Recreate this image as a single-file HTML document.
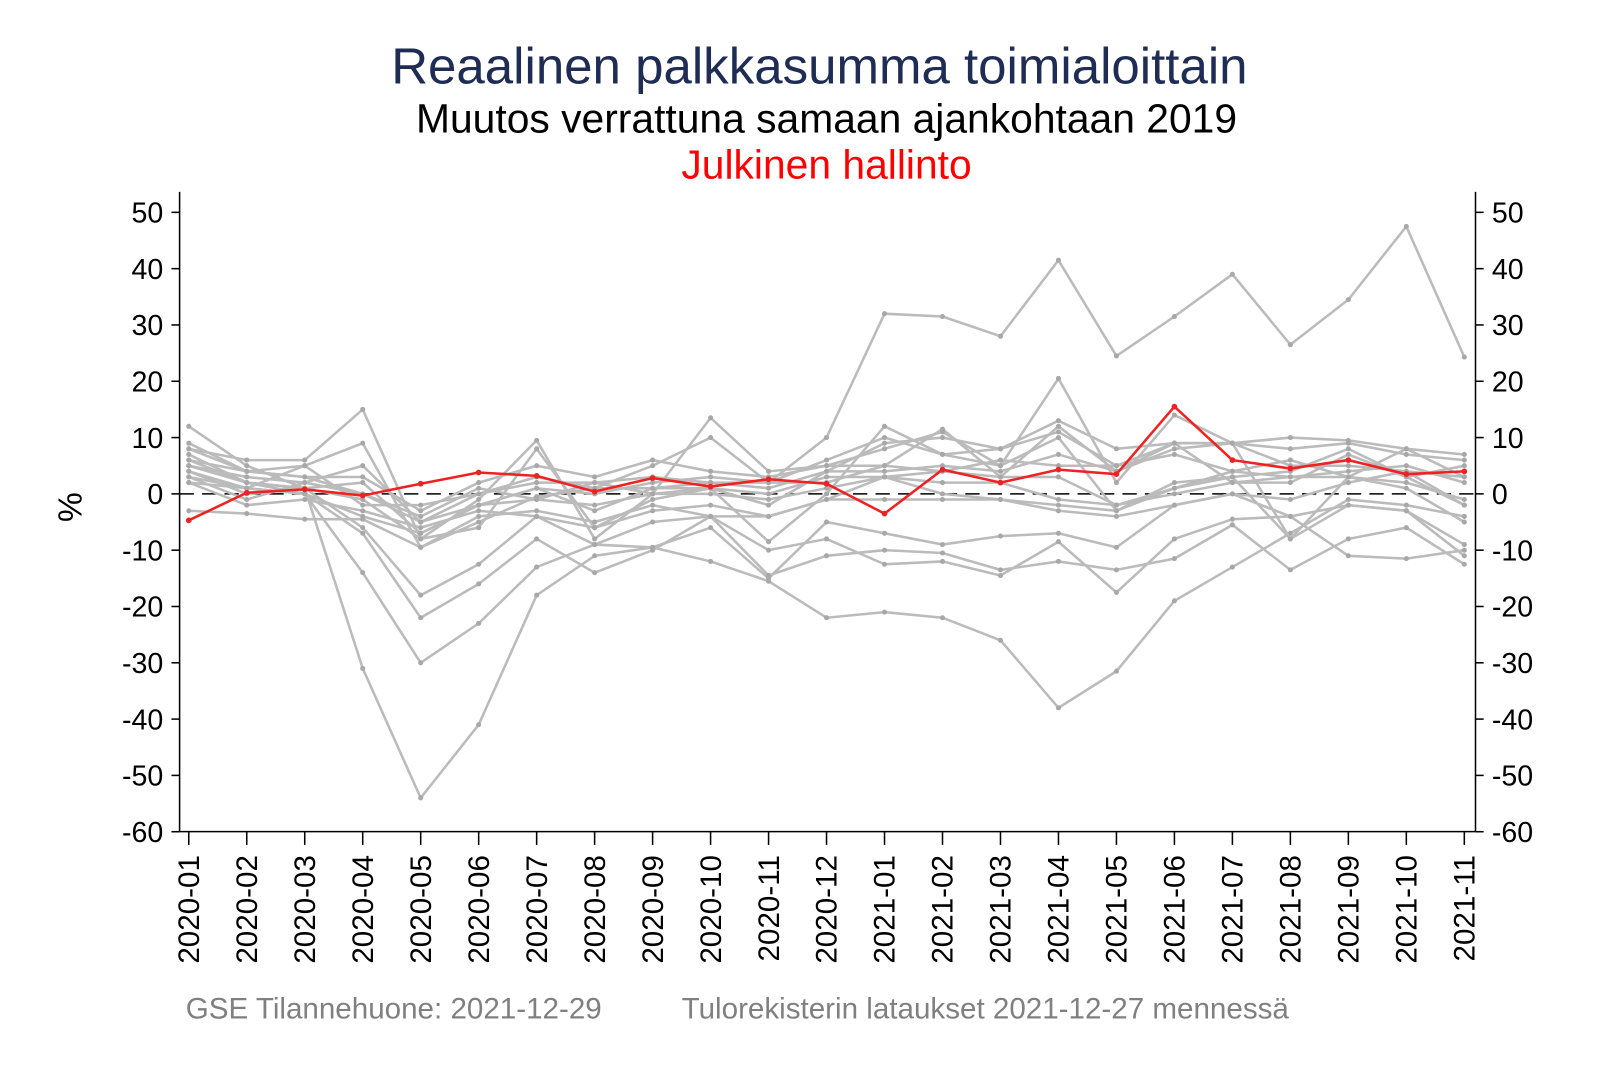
<!DOCTYPE html>
<html><head><meta charset="utf-8"><style>body{margin:0;background:#fff}svg{display:block}text{font-family:"Liberation Sans",Arial,sans-serif}</style></head>
<body>
<svg width="1600" height="1067" xmlns="http://www.w3.org/2000/svg">
<rect width="1600" height="1067" fill="#fff"/>
<g transform="scale(1.0204)">
<text x="803" y="82" font-size="50" fill="#1F2D55" text-anchor="middle">Reaalinen palkkasumma toimialoittain</text>
<text x="810" y="130" font-size="40" fill="#000" text-anchor="middle">Muutos verrattuna samaan ajankohtaan 2019</text>
<text x="810" y="175" font-size="40" fill="#ff0000" text-anchor="middle">Julkinen hallinto</text>
<g id="axes" stroke="#000" stroke-width="1.5" fill="none">
<line x1="176" y1="188" x2="176" y2="815"/>
<line x1="1446" y1="188" x2="1446" y2="815"/>
<line x1="176" y1="815" x2="1446" y2="815"/>
</g>
<line x1="176" y1="484" x2="1446" y2="484" stroke="#000" stroke-width="1.5" stroke-dasharray="14,8"/>
<g id="yt"></g><g id="xt"></g><g id="series"></g>
<text x="0" y="0" font-size="33" transform="translate(80,497) rotate(-90)" text-anchor="middle">%</text>
<text x="182" y="998" font-size="29" fill="#808080">GSE Tilannehuone: 2021-12-29</text>
<text x="668" y="998" font-size="29" fill="#808080">Tulorekisterin lataukset 2021-12-27 mennessä</text>
</g>
<script>
var ns="http://www.w3.org/2000/svg";
function Y(v){return 484-v*5.518;}
function X(i){return 185+i*56.82;}
function el(t,a,p,txt){var e=document.createElementNS(ns,t);for(var k in a)e.setAttribute(k,a[k]);if(txt!=null)e.textContent=txt;document.getElementById(p).appendChild(e);return e;}
for(var v=-60;v<=50;v+=10){var y=Y(v);
el('line',{x1:168,y1:y,x2:176,y2:y,stroke:'#000','stroke-width':1.5},'yt');
el('line',{x1:1446,y1:y,x2:1454,y2:y,stroke:'#000','stroke-width':1.5},'yt');
el('text',{x:160,y:y+10,'font-size':28,'text-anchor':'end'},'yt',v);
el('text',{x:1462,y:y+10,'font-size':28},'yt',v);}
var labs=[];for(var i=1;i<=12;i++)labs.push('2020-'+(i<10?'0':'')+i);for(var i=1;i<=11;i++)labs.push('2021-'+(i<10?'0':'')+i);
labs.forEach(function(l,i){var x=X(i);el('line',{x1:x,y1:815,x2:x,y2:828,stroke:'#000','stroke-width':1.5},'xt');
el('text',{x:0,y:0,'font-size':29,'text-anchor':'end',transform:'translate('+(x+10)+',838) rotate(-90)'},'xt',l);});
var gray=[
[8,4,3,0,-5,-2,1,0,2,3,2,10,32,31.5,28,41.5,24.5,31.5,39,26.5,34.5,47.5,24.3],
[5,2,1,-31,-54,-41,-18,-11,-9.5,-6,-15,-5,-7,-9,-7.5,-7,-9.5,-2,0,-1,2,4,-2],
[2,1,0,-14,-30,-23,-13,-9,-9.5,-12,-15.5,-22,-21,-22,-26,-38,-31.5,-19,-13,-7,-1,-2,-4],
[3,1,0,-7,-22,-16,-8,-14,-10,-4,-14.5,-11,-10,-10.5,-13.5,-12,-13.5,-11.5,-5.5,-13.5,-8,-6,-12.5],
[4,0,1,-6,-18,-12.5,-4,-9,-5,-4,-10,-8,-12.5,-12,-14.5,-8.5,-17.5,-8,-4.5,-4,-11,-11.5,-10],
[12,5,1,-1,-8,-6,8,-6,-1,1,-8.5,0,12,7,5,20.5,2,14,9,-8,3,8,3],
[8,6,6,15,-8,-1,9.5,-8,0,13.5,4,5,5,11.5,3,12,4,9,9,8,9,7,6],
[6,4,5,9,-9.5,-5,-0.5,1,5,10,2,6,10,7,8,13,8,9,9,10,9.5,8,7],
[9,4,3,3,-3,2,5,3,6,4,3,5,8,11,5,10,-3,2,3,4,8,3,5],
[-3,-3.5,-4.5,-4.5,-9.5,-4,-3,-5,-2,-4,-4,-1,-1,-1,-1,-3,-4,-2,0,-4,-2,-3,-9],
[5,3,2,5,-5,0,2,2,3,2,1,4,4,5,4,7,4,8,9,5,5,4,3],
[7,2,1,2,-7,-2,1,-3,1,1,0,3,3,4,6,5,5,7,4,3,4,5,2],
[4,1,5,-2,-2,0,3,1,1,2,2,2,5,4,3,3,-2,1,4,6,3,2,-1],
[6,2,0,-4,-7,-2,-1,-2,0,1,-2,4,9,10,8,11,5,9,2,2,7,3,-2],
[3,-1,2,0,-4,1,-1,2,0,0,-1,1,3,2,2,-1,-2,0,2,3,3,1,-5],
[2,-2,-1,-3,-6,-3,-4,-6,-3,-2,-4,-1,3,0,-1,-2,-3,1,3,-8,-2,-3,-11]];
gray.forEach(function(s){var p=s.map(function(v,i){return X(i)+','+Y(v)}).join(' ');
el('polyline',{points:p,fill:'none',stroke:'#bbbbbb','stroke-width':2.5},'series');
s.forEach(function(v,i){el('circle',{cx:X(i),cy:Y(v),r:2.5,fill:'#a8a8a8'},'series');});});
var red=[-4.7,0.2,0.8,-0.3,1.8,3.8,3.2,0.4,2.8,1.3,2.6,1.8,-3.5,4.3,2.0,4.3,3.5,15.5,6.0,4.5,6.0,3.5,4.0];
el('polyline',{points:red.map(function(v,i){return X(i)+','+Y(v)}).join(' '),fill:'none',stroke:'#ee2222','stroke-width':2.5},'series');
red.forEach(function(v,i){el('circle',{cx:X(i),cy:Y(v),r:2.8,fill:'#ee2222'},'series');});
</script>
</svg>
</body></html>
